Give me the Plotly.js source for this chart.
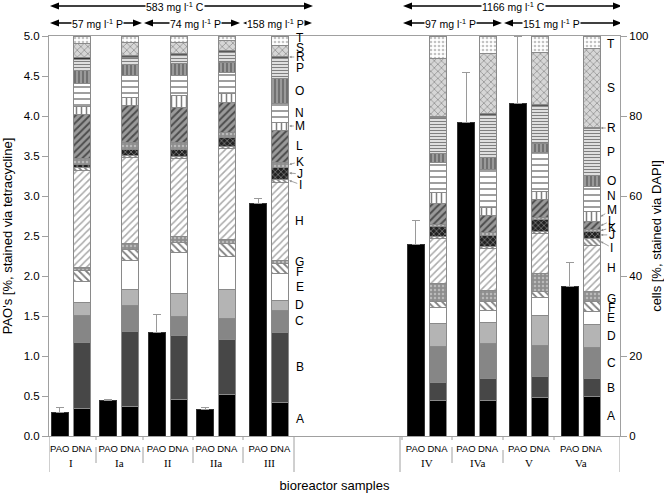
<!DOCTYPE html>
<html><head><meta charset="utf-8">
<script src="https://cdn.plot.ly/plotly-3.0.1.min.js"></script>
<style>html,body{margin:0;padding:0;background:#fff}#chart{width:664px;height:493px}</style>
</head><body><div id="chart"></div>
<script>
// ---------------- data ----------------
const groups = ['I','Ia','II','IIa','III','IV','IVa','V','Va'];
const paoValues = [0.29, 0.45, 1.29, 0.33, 2.91, 2.39, 3.92, 4.16, 1.87];
const paoErrors = [0.07, 0.01, 0.23, 0.03, 0.06, 0.31, 0.62, 0.84, 0.30];
const segmentLetters = ['A','B','C','D','E','F','G','H','I','J','K','L','M','N','O','P','R','S','T'];
const segA = [6.9, 7.5, 9.25, 10.5, 8.5, 9.0, 9.0, 9.6, 9.8];
const segB = [16.4, 18.75, 16.0, 13.7, 17.5, 4.4, 5.4, 5.25, 4.6];
const segC = [6.9, 6.3, 4.75, 5.25, 5.5, 9.1, 8.75, 7.7, 7.75];
const segD = [3.3, 4.1, 5.7, 7.1, 2.5, 5.7, 5.15, 7.5, 5.8];
const segE = [5.2, 7.3, 10.1, 8.3, 6.75, 4.0, 3.2, 4.7, 3.1];
const segF = [2.75, 2.7, 2.5, 3.2, 2.5, 1.4, 2.1, 1.4, 2.5];
const segG = [0.8, 1.5, 1.5, 1.2, 0.75, 4.6, 2.9, 4.6, 2.5];
const segH = [24.2, 21.6, 19.6, 22.75, 19.5, 11.25, 10.4, 10.0, 11.7];
const segI = [0.75, 0.4, 0.4, 0.4, 0.75, 0.5, 0.4, 0.3, 1.7];
const segJ = [0.75, 1.4, 1.8, 2.2, 3.0, 2.4, 2.9, 3.0, 1.65];
const segK = [1.4, 1.9, 1.9, 1.25, 1.25, 0.6, 0.6, 0.5, 0.5];
const segL = [11.1, 9.2, 8.6, 7.65, 8.0, 5.1, 4.45, 4.5, 2.0];
const segM = [2.0, 2.1, 3.1, 2.2, 2.0, 2.8, 1.9, 2.1, 2.5];
const segN = [5.8, 5.4, 5.0, 5.2, 4.75, 7.6, 9.5, 9.75, 6.25];
const segO = [3.2, 2.75, 2.9, 2.5, 6.25, 2.25, 3.0, 2.35, 2.75];
const segP = [2.7, 1.8, 2.1, 2.6, 5.0, 9.0, 10.6, 9.15, 11.7];
const segR = [0.6, 0.4, 0.4, 0.4, 0.5, 0.3, 0.4, 0.4, 0.4];
const segS = [3.4, 3.3, 2.9, 2.4, 2.75, 14.4, 15.1, 13.0, 19.8];
const segT = [1.85, 1.6, 1.5, 1.2, 2.25, 5.6, 4.25, 4.2, 3.0];
const segments = [segA,segB,segC,segD,segE,segF,segG,segH,segI,segJ,segK,segL,segM,segN,segO,segP,segR,segS,segT];
const sampleLabels = ['PAO','DNA'];
const carbonLabels = ['583 mg l<sup>-1</sup> C', '1166 mg l<sup>-1</sup> C'];
const phosphorusLabels = ['57 mg l<sup>-1</sup> P','74 mg l<sup>-1</sup> P','158 mg l<sup>-1</sup> P','97 mg l<sup>-1</sup> P','151 mg l<sup>-1</sup> P'];

// ---------------- layout constants ----------------
const FONT = 'Arial, "Liberation Sans", sans-serif';
const SERIF = '"Times New Roman", "Liberation Serif", serif';
const groupCenters = [70.75, 119.25, 167.5, 216.25, 269.25, 426.5, 477, 528.75, 580.75];
const pairOffset = 11;
const barWidth = 17;
const paoX = groupCenters.map(c => c - pairOffset);
const dnaX = groupCenters.map(c => c + pairOffset);

const styles = {
  A:{bg:'#000000'}, B:{bg:'#474747'}, C:{bg:'#868686'}, D:{bg:'#b4b4b4'}, E:{bg:'#ffffff'},
  F:{bg:'#ffffff', shape:'\\', fg:'#000', size:5, sol:0.35},
  G:{bg:'#8e8e8e', shape:'.', fg:'#e6e6e6', size:4, sol:0.3},
  H:{bg:'#ffffff', shape:'/', fg:'#555', size:5, sol:0.3},
  I:{bg:'#ffffff', shape:'\\', fg:'#000', size:4, sol:0.45},
  J:{bg:'#222222', shape:'x', fg:'#ffffff', size:4, sol:0.3},
  K:{bg:'#8e8e8e', shape:'.', fg:'#e6e6e6', size:4, sol:0.3},
  L:{bg:'#9a9a9a', shape:'/', fg:'#000', size:5, sol:0.4},
  M:{bg:'#ffffff', shape:'|', fg:'#000', size:5, sol:0.3},
  N:{bg:'#ffffff', shape:'-', fg:'#000', size:6, sol:0.25},
  O:{bg:'#9a9a9a', shape:'|', fg:'#333', size:4, sol:0.4},
  P:{bg:'#ffffff', shape:'-', fg:'#000', size:3, sol:0.5},
  R:{bg:'#666666', shape:'-', fg:'#000', size:3, sol:0.5},
  S:{bg:'#d6d6d6', shape:'x', fg:'#555', size:5, sol:0.3},
  T:{bg:'#ffffff', shape:'.', fg:'#888', size:4, sol:0.35}
};

// ---------------- traces ----------------
const traces = [];
traces.push({
  type:'bar', x:paoX, y:paoValues, width:barWidth, xaxis:'x', yaxis:'y',
  marker:{color:'#000', line:{color:'#333', width:1}},
  error_y:{type:'data', symmetric:false, array:paoErrors, arrayminus:paoErrors.map(()=>0),
           color:'#9a9a9a', thickness:1, width:4},
  cliponaxis:false, hoverinfo:'skip', showlegend:false
});
segments.forEach((vals, i) => {
  const st = styles[segmentLetters[i]];
  const marker = {color: st.bg, line:{color:'#8a8a8a', width:1}};
  if (st.shape) marker.pattern = {shape: st.shape, fgcolor: st.fg, bgcolor: st.bg, size: st.size, solidity: st.sol, fillmode:'overlay'};
  traces.push({type:'bar', x:dnaX, y:vals, width:barWidth, xaxis:'x', yaxis:'y2',
    marker, name: segmentLetters[i], hoverinfo:'skip', showlegend:false});
});

// ---------------- annotations & shapes ----------------
const annotations = [];
const shapes = [];
const pxToPaper = px => (436 - px) / 400;

// range arrows (line + two filled heads + label on white)
const rangeArrows = [
  {x0:50, x1:313, y:6, text:carbonLabels[0], tx:175},
  {x0:403, x1:622, y:6, text:carbonLabels[1], tx:513},
  {x0:50, x1:142, y:23, text:phosphorusLabels[0], tx:97},
  {x0:144, x1:240, y:23, text:phosphorusLabels[1], tx:195},
  {x0:243, x1:312, y:23, text:phosphorusLabels[2], tx:275},
  {x0:403, x1:502, y:23, text:phosphorusLabels[3], tx:450},
  {x0:504, x1:622, y:23, text:phosphorusLabels[4], tx:551}
];
rangeArrows.forEach(r => {
  const yp = pxToPaper(r.y);
  shapes.push({type:'line', xref:'x', yref:'paper', x0:r.x0 + 4, x1:r.x1 - 4, y0:yp, y1:yp, line:{color:'#000', width:1.5}});
  shapes.push({type:'path', xref:'x', yref:'paper', xsizemode:'pixel', ysizemode:'pixel', xanchor:r.x1, yanchor:yp,
    path:'M0,0 L-9,3.5 L-9,-3.5 Z', fillcolor:'#000', line:{width:0}});
  shapes.push({type:'path', xref:'x', yref:'paper', xsizemode:'pixel', ysizemode:'pixel', xanchor:r.x0, yanchor:yp,
    path:'M0,0 L9,3.5 L9,-3.5 Z', fillcolor:'#000', line:{width:0}});
  annotations.push({xref:'x', yref:'paper', x:r.tx, y:yp, text:r.text, showarrow:false,
    bgcolor:'#ffffff', borderpad:0, font:{family:FONT, size:10.5, color:'#000'}, xanchor:'center', yanchor:'middle'});
});

// group labels (serif numerals)
groups.forEach((g, i) => {
  annotations.push({xref:'x', yref:'paper', x:groupCenters[i], y:pxToPaper(463), text:g, showarrow:false,
    font:{family:SERIF, size:11, color:'#000'}, xanchor:'center', yanchor:'middle'});
});

// segment letter labels next to reference bars
function addLetterLabels(refIdx, arrows, shifts) {
  let cum = 0;
  const edge = dnaX[refIdx] + barWidth / 2;
  segmentLetters.forEach((L, i) => {
    const v = segments[i][refIdx];
    const mid = cum + v / 2;
    cum += v;
    if (L in arrows) {
      annotations.push({xref:'x', yref:'y2', x:edge + 0.5, y:mid, text:L, showarrow:true, ax:11, ay:arrows[L],
        arrowhead:2, arrowsize:0.6, arrowwidth:0.8, arrowcolor:'#8a8a8a', standoff:0,
        font:{family:FONT, size:12, color:'#000'}});
    } else {
      annotations.push({xref:'x', yref:'y2', x:edge + 11, y:mid, text:L, showarrow:false,
        yshift: -(shifts[L] || 0),
        xanchor:'center', yanchor:'middle', font:{family:FONT, size:12, color:'#000'}});
    }
  });
}
addLetterLabels(4, {R:0, M:0, K:-3, J:1, I:4}, {T:-2.5, S:-2.5, F:4});
addLetterLabels(8, {R:0, M:-7, L:-5, K:-3, J:0, I:6}, {T:2, N:-3, G:2.5, F:1.5});

// category separators under the axis
[49, 294, 400, 620].forEach(x => shapes.push({type:'line', xref:'x', yref:'paper', x0:x, x1:x, y0:0, y1:pxToPaper(472), line:{color:'#a0a0a0', width:1}}));
[96, 143, 193, 243, 452].forEach(x => shapes.push({type:'line', xref:'x', yref:'paper', x0:x, x1:x, y0:pxToPaper(447), y1:pxToPaper(463), line:{color:'#a0a0a0', width:1}}));
[503].forEach(x => shapes.push({type:'line', xref:'x', yref:'paper', x0:x, x1:x, y0:pxToPaper(450), y1:pxToPaper(463), line:{color:'#a0a0a0', width:1}}));
[96, 143, 193, 243, 402, 452, 503, 554].forEach(x => shapes.push({type:'line', xref:'x', yref:'paper', x0:x, x1:x, y0:0, y1:pxToPaper(440), line:{color:'#a0a0a0', width:1}}));

const tickVals = [];
const tickText = [];
groupCenters.forEach((c, i) => { tickVals.push(paoX[i], dnaX[i]); tickText.push(sampleLabels[0], sampleLabels[1]); });

const layout = {
  width:664, height:493,
  margin:{l:49, r:44, t:36, b:57},
  paper_bgcolor:'#fff', plot_bgcolor:'#fff',
  barmode:'stack', showlegend:false,
  font:{family:FONT, color:'#000'},
  xaxis:{range:[49, 620], tickvals:tickVals, ticktext:tickText, ticks:'outside', ticklen:4, tickcolor:'rgba(0,0,0,0)',
    showgrid:false, zeroline:false,
    showline:true, linecolor:'#a0a0a0', linewidth:1, mirror:true, tickangle:0,
    tickfont:{family:FONT, size:9.5, color:'#000'},
    title:{text:'bioreactor samples', font:{family:FONT, size:13, color:'#000'}, standoff:28}},
  yaxis:{range:[0,5], dtick:0.5, tickformat:'.1f', ticks:'outside', ticklen:6, tickcolor:'#a0a0a0',
    showline:true, linecolor:'#a0a0a0', showgrid:false, zeroline:false,
    tickfont:{family:FONT, size:11.5, color:'#000'},
    title:{text:"PAO's [%, stained via tetracycline]", font:{family:FONT, size:13, color:'#000'}, standoff:8}},
  yaxis2:{range:[0,100], dtick:20, overlaying:'y', side:'right', ticks:'outside', ticklen:6, tickcolor:'#a0a0a0',
    showline:true, linecolor:'#a0a0a0', showgrid:false, zeroline:false,
    tickfont:{family:FONT, size:11.5, color:'#000'},
    title:{text:'cells [%, stained via DAPI]', font:{family:FONT, size:13, color:'#000'}, standoff:8}},
  annotations, shapes
};

Plotly.newPlot('chart', traces, layout, {staticPlot:true, displayModeBar:false});
</script></body></html>
